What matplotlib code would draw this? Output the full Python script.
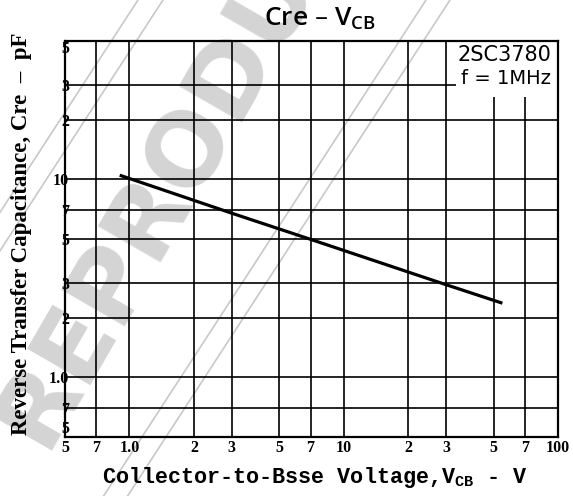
import matplotlib
matplotlib.use("Agg")
import matplotlib.pyplot as plt
from matplotlib.patches import Rectangle

plt.rcParams['mathtext.default'] = 'regular'

# data
vcb = [0.9, 3.0, 7.2, 30.0, 55.0]
cre = [10.5, 6.75, 4.93, 2.94, 2.37]

x_ticks = [0.5, 0.7, 1, 2, 3, 5, 7, 10, 20, 30, 50, 70, 100]
x_labels = ['5', '7', '1.0', '2', '3', '5', '7', '10', '2', '3', '5', '7', '100']
y_ticks = [0.5, 0.7, 1, 2, 3, 5, 7, 10, 20, 30, 50]
y_labels = ['5', '7', '1.0', '2', '3', '5', '7', '10', '2', '3', '5']

W, H = 573, 496
fig = plt.figure(figsize=(W / 100, H / 100), dpi=100)

# watermark layer (pixel coordinates), behind the chart
bg = fig.add_axes([0, 0, 1, 1], zorder=-1)
bg.set_xlim(0, W)
bg.set_ylim(H, 0)
bg.axis('off')
bg.text(243, 51, 'REPRODUCTION', rotation=60, rotation_mode='anchor',
        ha='center', va='center', fontsize=72, fontweight='bold',
        family='DejaVu Sans', color='#d4d4d4')
for x0 in [138, 163, 426, 450]:
    bg.plot([x0, x0 - 0.65 * 600], [0, 600], color='#c8c8c8', lw=1.2)

ax = fig.add_axes([65 / W, 1 - 437 / H, (558 - 65) / W, (437 - 41) / H])
ax.set_facecolor('none')
ax.set_xscale('log')
ax.set_yscale('log')
ax.set_xlim(0.5, 100)
ax.set_ylim(0.5, 50)
ax.minorticks_off()
ax.set_xticks(x_ticks)
ax.set_xticklabels(x_labels)
ax.set_yticks(y_ticks)
ax.set_yticklabels(y_labels)
ax.grid(True, color='black', lw=1.2)
ax.tick_params(length=0, labelsize=11.5)
ax.tick_params(axis='x', pad=2)
ax.tick_params(axis='y', pad=-3)
for lab in ax.get_xticklabels() + ax.get_yticklabels():
    lab.set_family('Liberation Serif')
    lab.set_fontweight('bold')
ylabs = ax.get_yticklabels()
ylabs[0].set_va('bottom')
ylabs[-1].set_va('top')
for s in ax.spines.values():
    s.set_linewidth(1.6)

# blank area behind the device label
ax.add_patch(Rectangle((33.5, 26), 100 - 33.5, 50 - 26, facecolor='white',
                       edgecolor='none', zorder=2))

ax.plot(vcb, cre, color='black', lw=2.3, solid_capstyle='butt', zorder=3)

fig.text(551 / W, 1 - 55 / H, '2SC3780', ha='right', va='center',
         fontsize=15, family='DejaVu Sans')
fig.text(551 / W, 1 - 78 / H, 'f = 1MHz', ha='right', va='center',
         fontsize=14, family='DejaVu Sans')

fig.text(320 / W, 1 - 19 / H, 'Cre – V$_{CB}$', ha='center', va='center',
         fontsize=19, family='Open Sans', fontweight='semibold')
fig.text(22 / W, 1 - 234 / H, 'Reverse Transfer Capacitance, Cre  –  pF',
         rotation=90, ha='center', va='center', fontsize=16.5,
         family='Liberation Serif', fontweight='bold')
fig.text(315 / W, 1 - 477 / H, 'Collector-to-Bsse Voltage,V$_{CB}$ - V',
         ha='center', va='center', fontsize=15.7, family='Liberation Mono',
         fontweight='bold')

fig.savefig('out.png', dpi=100)
